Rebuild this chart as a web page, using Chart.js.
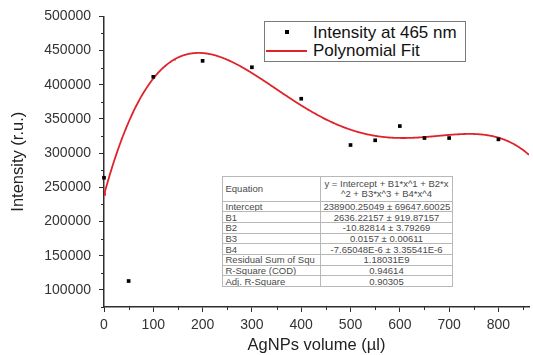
<!DOCTYPE html>
<html>
<head>
<meta charset="utf-8">
<script src="https://cdn.jsdelivr.net/npm/chart.js@4.4.1/dist/chart.umd.min.js"></script>
<style>
  html, body { margin: 0; padding: 0; background: #fff; }
  #wrap { position: relative; width: 533px; height: 355px; overflow: hidden; font-family: "Liberation Sans", Arial, sans-serif; }
  #chart { position: absolute; left: 0; top: 0; }
  .legend-box { position: absolute; left: 264px; top: 21px; width: 202px; height: 41px; box-sizing: border-box; border: 1px solid #7a7a7a; background: #fff; }
  .legend-text { position: absolute; left: 313px; font-size: 17px; line-height: 19px; color: #111; white-space: nowrap; }
  .legend-dot { position: absolute; width: 4px; height: 4px; background: #000; }
  .legend-line { position: absolute; height: 2px; background: #e0222b; }
  #fitTable { position: absolute; left: 222px; top: 176px; width: 231px; border-collapse: collapse; table-layout: fixed; background: #fff; font-size: 9.5px; line-height: 9px; color: #4a4a4a; border: 1px solid #9a9a9a; }
  #fitTable td { border: 1px solid #b8b8b8; padding: 0 2.5px; height: 9.7px; white-space: nowrap; overflow: hidden; }
  #fitTable td.val { text-align: center; }
  #fitTable tr.eq td { height: 23.5px; line-height: 10px; }
</style>
</head>
<body>
<div id="wrap">
  <canvas id="chart" width="533" height="355"></canvas>
  <div class="legend-box"></div>
  <div class="legend-dot" style="left:284.5px; top:30px;"></div>
  <div class="legend-text" id="legPoints" style="top:22.5px;"></div>
  <div class="legend-line" style="left:266px; top:49.5px; width:41px;"></div>
  <div class="legend-text" id="legFit" style="top:41px;"></div>
  <table id="fitTable">
    <colgroup><col style="width:98px"><col></colgroup>
    <tbody id="fitBody"></tbody>
  </table>
</div>
<script>
// measured emission intensity vs. added AgNPs volume
const volumes = [0, 50, 100, 200, 300, 400, 500, 550, 600, 650, 700, 800];
const intensities = [264000, 113000, 411600, 435000, 425600, 379600, 311900, 318800, 339600, 322100, 322100, 320200];

// 4th order polynomial fit: Intercept, B1..B4
const fitCoefficients = [238900.25049, 2636.22157, -10.82814, 0.0157, -7.65048e-6];

const pointsLabel = "Intensity at 465 nm";
const fitLabel = "Polynomial Fit";

const xTickValues = [0, 100, 200, 300, 400, 500, 600, 700, 800];
const xMinorTicks = [50, 150, 250, 350, 450, 550, 650, 750, 850];
const yTickValues = [100000, 150000, 200000, 250000, 300000, 350000, 400000, 450000, 500000];
const yMinorTicks = [75000, 125000, 175000, 225000, 275000, 325000, 375000, 425000, 475000];

const equationLines = ["y = Intercept + B1*x^1 + B2*x", "^2 + B3*x^3 + B4*x^4"];
const fitParams = [
  ["Intercept", "238900.25049 ± 69647.60025"],
  ["B1", "2636.22157 ± 919.87157"],
  ["B2", "-10.82814 ± 3.79269"],
  ["B3", "0.0157 ± 0.00611"],
  ["B4", "-7.65048E-6 ± 3.35541E-6"],
  ["Residual Sum of Squ", "1.18031E9"],
  ["R-Square (COD)", "0.94614"],
  ["Adj. R-Square", "0.90305"],
];

const X_MAX = 862;

function fitValue(x) {
  return fitCoefficients.reduce((sum, b, i) => sum + b * Math.pow(x, i), 0);
}

const fitCurve = [];
for (let x = 0; x <= X_MAX; x += 2) {
  fitCurve.push({ x: x, y: fitValue(x) });
}

const axisColor = "#2e2e2e";
const tickFont = { family: "'Liberation Sans', Arial, sans-serif", size: 14 };
const titleFont = { family: "'Liberation Sans', Arial, sans-serif", size: 16.5, lineHeight: 1 };

// short unlabeled ticks between the numbered ones
const minorTicksPlugin = {
  id: "minorTicks",
  afterDraw(chart) {
    const { ctx, chartArea, scales } = chart;
    ctx.save();
    ctx.strokeStyle = axisColor;
    ctx.lineWidth = 1;
    ctx.beginPath();
    xMinorTicks.forEach((v) => {
      const px = Math.round(scales.x.getPixelForValue(v)) + 0.5;
      if (px > chartArea.right) return;
      ctx.moveTo(px, chartArea.bottom);
      ctx.lineTo(px, chartArea.bottom + 3);
    });
    yMinorTicks.forEach((v) => {
      const py = Math.round(scales.y.getPixelForValue(v)) + 0.5;
      ctx.moveTo(chartArea.left, py);
      ctx.lineTo(chartArea.left - 3, py);
    });
    ctx.stroke();
    ctx.restore();
  },
};

new Chart(document.getElementById("chart"), {
  type: "scatter",
  data: {
    datasets: [
      {
        label: pointsLabel,
        data: volumes.map((v, i) => ({ x: v, y: intensities[i] })),
        pointStyle: "rect",
        pointRadius: 2.6,
        pointBackgroundColor: "#000",
        pointBorderWidth: 0,
        showLine: false,
        clip: false,
      },
      {
        label: fitLabel,
        data: fitCurve,
        showLine: true,
        borderColor: "#e0222b",
        borderWidth: 1.8,
        pointRadius: 0,
        tension: 0,
      },
    ],
  },
  options: {
    responsive: false,
    animation: false,
    devicePixelRatio: 1,
    layout: { padding: { top: 16, right: 0, bottom: 0, left: 0 } },
    plugins: { legend: { display: false }, tooltip: { enabled: false } },
    scales: {
      x: {
        type: "linear",
        min: 0,
        max: X_MAX,
        afterBuildTicks: (scale) => {
          scale.ticks = xTickValues.map((v) => ({ value: v }));
        },
        afterFit: (scale) => {
          scale.height = 48;
        },
        ticks: { color: "#333", font: tickFont, padding: 5, maxRotation: 0, callback: (v) => String(v) },
        grid: { drawOnChartArea: false, drawTicks: true, tickLength: 5, tickColor: axisColor, tickWidth: 1 },
        border: { display: true, color: axisColor, width: 1.5 },
        title: { display: true, text: "AgNPs volume (µl)", color: "#222", font: titleFont, padding: { top: 0, bottom: 1 } },
      },
      y: {
        type: "linear",
        min: 75000,
        max: 500000,
        afterBuildTicks: (scale) => {
          scale.ticks = yTickValues.map((v) => ({ value: v }));
        },
        afterFit: (scale) => {
          scale.width = 104;
        },
        ticks: { color: "#333", font: tickFont, padding: 8, callback: (v) => String(v) },
        grid: { drawOnChartArea: false, drawTicks: true, tickLength: 5, tickColor: axisColor, tickWidth: 1 },
        border: { display: true, color: axisColor, width: 1.5 },
        title: { display: true, text: "Intensity (r.u.)", color: "#222", font: titleFont, padding: { top: 10.5, bottom: 0 } },
      },
    },
  },
  plugins: [minorTicksPlugin],
});

// legend
document.getElementById("legPoints").textContent = pointsLabel;
document.getElementById("legFit").textContent = fitLabel;

// fit parameter table
const body = document.getElementById("fitBody");
const eqRow = document.createElement("tr");
eqRow.className = "eq";
eqRow.innerHTML = `<td>Equation</td><td class="val">${equationLines.join("<br>")}</td>`;
body.appendChild(eqRow);
fitParams.forEach(([name, value]) => {
  const tr = document.createElement("tr");
  tr.innerHTML = `<td>${name}</td><td class="val">${value}</td>`;
  body.appendChild(tr);
});
</script>
</body>
</html>
